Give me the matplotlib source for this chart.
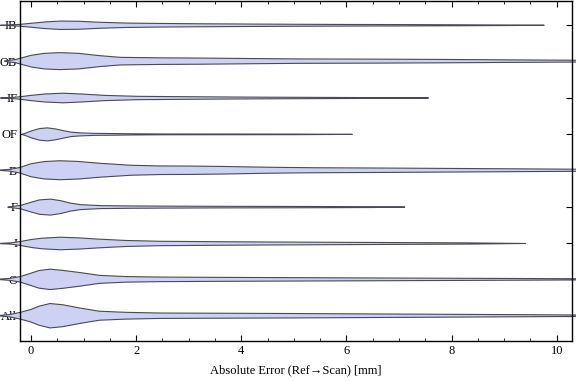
import numpy as np
import matplotlib
matplotlib.use("Agg")
import matplotlib.pyplot as plt
from matplotlib.ticker import MultipleLocator

# --- Data ---
# categories from bottom to top
categories = ["All", "O", "I", "F", "B", "OF", "IF", "OB", "IB"]

# violin profiles: error value [mm] and half-width (relative density, px-like units)
all_x = [-0.59, -0.4, -0.21, 0, 0.15, 0.36, 0.6, 0.93, 1.3, 1.8, 2.45, 3.5, 5, 6.5, 8, 9.5, 10.8]
all_w = [0.3, 1.2, 3.3, 6.3, 9.5, 12.2, 11.0, 7.7, 4.5, 3.4, 2.7, 2.5, 2.2, 1.8, 1.4, 1.0, 0.6]

o_x = [-0.59, -0.4, -0.21, 0, 0.15, 0.36, 0.6, 0.93, 1.3, 1.8, 2.45, 3.5, 5, 6.5, 8, 9.5, 10.8]
o_w = [0.3, 1.0, 2.7, 6.2, 8.8, 10.2, 9.0, 6.8, 4.0, 2.8, 2.3, 2.0, 1.7, 1.4, 1.1, 0.8, 0.5]

i_x = [-0.59, -0.4, -0.21, 0, 0.2, 0.55, 0.9, 1.3, 1.8, 2.45, 3.5, 4.5, 5.7, 7, 8.3, 9.4]
i_w = [0.2, 0.6, 2.0, 4.0, 5.3, 6.3, 5.6, 4.3, 3.0, 2.2, 1.8, 1.5, 1.2, 0.9, 0.6, 0.0]

f_x = [-0.45, -0.21, 0, 0.15, 0.36, 0.55, 0.74, 0.93, 1.3, 1.8, 2.5, 3.5, 4.5, 5.5, 6.5, 7.1]
f_w = [0.1, 1.7, 5.0, 7.2, 8.0, 6.5, 4.0, 2.5, 1.5, 1.2, 1.0, 0.8, 0.7, 0.6, 0.4, 0.0]

b_x = [-0.59, -0.4, -0.21, 0, 0.25, 0.55, 0.9, 1.3, 1.9, 2.45, 3.0, 3.65, 4.5, 5.4, 6.7, 8, 9.3, 10.8]
b_w = [0.2, 0.9, 2.8, 6.5, 8.7, 9.5, 8.8, 7.0, 5.0, 4.3, 4.2, 3.8, 3.0, 2.5, 2.2, 1.8, 1.4, 0.9]

of_x = [-0.18, -0.1, 0, 0.15, 0.3, 0.45, 0.6, 0.75, 0.93, 1.2, 1.6, 1.9, 2.5, 4, 5, 6.1]
of_w = [0.0, 1.5, 3.5, 5.8, 6.5, 5.5, 3.8, 2.2, 1.5, 1.0, 0.8, 0.6, 0.4, 0.35, 0.3, 0.0]

if_x = [-0.59, -0.4, -0.21, 0, 0.25, 0.6, 0.95, 1.4, 2.0, 2.45, 3.5, 4.5, 5.5, 6.5, 7.55]
if_w = [0.1, 0.4, 1.3, 2.7, 4.0, 4.8, 4.0, 2.6, 1.7, 1.5, 1.1, 0.8, 0.6, 0.4, 0.0]

ob_x = [-0.5, -0.3, -0.21, 0, 0.25, 0.55, 0.9, 1.3, 1.7, 2.45, 3.2, 4.2, 5.1, 6.5, 7.8, 9.0, 10.0, 10.8]
ob_w = [0.3, 1.5, 2.8, 5.8, 7.8, 8.5, 7.8, 5.5, 3.8, 3.3, 3.1, 2.6, 2.2, 2.0, 1.7, 1.3, 1.0, 0.8]

ib_x = [-0.59, -0.4, -0.21, 0, 0.25, 0.55, 0.9, 1.3, 1.8, 2.45, 3.2, 4.2, 5, 6, 7, 8, 9, 9.75]
ib_w = [0.1, 0.4, 1.0, 2.0, 3.3, 4.2, 4.0, 3.0, 2.2, 1.8, 1.5, 1.2, 1.0, 0.8, 0.7, 0.5, 0.3, 0.0]

profiles = [(all_x, all_w), (o_x, o_w), (i_x, i_w), (f_x, f_w), (b_x, b_w),
            (of_x, of_w), (if_x, if_w), (ob_x, ob_w), (ib_x, ib_w)]

WIDTH_SCALE = 1 / 36.4  # px-like half-width -> category units

plt.rcParams['font.family'] = ['Liberation Serif', 'DejaVu Serif']

fig = plt.figure(figsize=(5.76, 3.81), dpi=100)
ax = fig.add_axes([20 / 576, 1 - 341 / 381, 552 / 576, 341 / 381 - 0.002])

for pos, (xs, ws) in enumerate(profiles, start=1):
    xs = np.array(xs)
    ws = np.array(ws) * WIDTH_SCALE
    ax.fill_between(xs, pos - ws, pos + ws, facecolor='#CDD1F4',
                    edgecolor='#4a4a55', linewidth=0.8, clip_on=False, zorder=2)

ax.set_xlim(-0.21, 10.29)
ax.set_ylim(0.305, 9.66)

ax.set_yticks(range(1, len(categories) + 1))
ax.set_yticklabels(categories, fontsize=9)
ax.xaxis.set_major_locator(MultipleLocator(2))
ax.xaxis.set_minor_locator(MultipleLocator(0.5))
ax.tick_params(axis='both', which='major', direction='in', length=4, width=0.8,
               top=True, right=True, labelsize=9, pad=3)
ax.tick_params(axis='x', which='minor', direction='in', length=2.5, width=0.6, top=True)
ax.tick_params(axis='y', which='major', pad=2)
for lab in ax.get_yticklabels():
    lab.set_zorder(3)

for side in ['left', 'bottom', 'top', 'right']:
    ax.spines[side].set_linewidth(1.0)
    ax.spines[side].set_color('black')

ax.set_xlabel('Absolute Error (Ref\u2192Scan) [mm]', fontsize=9, labelpad=5)

fig.savefig('out.png', dpi=100)
